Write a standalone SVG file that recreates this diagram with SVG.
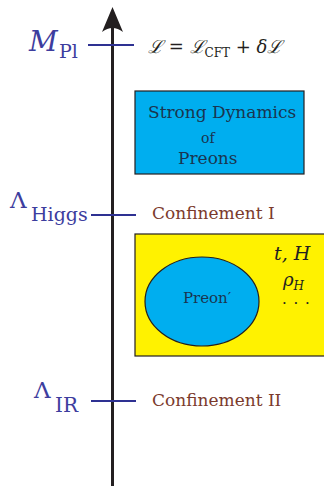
<svg xmlns="http://www.w3.org/2000/svg" width="324" height="486" viewBox="0 0 324 486">
  <style>
    .axis { stroke: #231f20; stroke-width: 3; fill: none; }
    .tick { stroke: #2e3192; stroke-width: 2.2; }
    .serif { font-family: "DejaVu Serif", serif; }
    .scale { fill: #3d3d9e; }
    .conf { font-size: 17px; fill: #7b3a2c; }
    .math { fill: #231f20; }
    .box-text { fill: #1a3550; }
    .blue { fill: #00aeef; stroke: #231f20; stroke-width: 1.2; }
    .yellow { fill: #fff200; stroke: #231f20; stroke-width: 1.2; }
  </style>

  <!-- energy axis -->
  <g id="connectors">
    <line class="axis" x1="112.5" y1="486" x2="112.5" y2="24"/>
    <path d="M112.5 7 L123 32 Q112.5 24 102 32 Z" fill="#231f20"/>
    <line class="tick" x1="88" y1="45" x2="134" y2="45"/>
    <line class="tick" x1="91" y1="215" x2="136" y2="215"/>
    <line class="tick" x1="91" y1="401" x2="136" y2="401"/>
  </g>

  <g id="planck" class="serif">
    <text class="scale" x="29" y="51" font-size="28" font-style="italic">M</text>
    <text class="scale" x="59" y="58" font-size="19">Pl</text>
    <text class="math" x="148" y="53" font-size="18"><tspan font-style="italic">ℒ</tspan> = <tspan font-style="italic">ℒ</tspan><tspan font-size="12" dy="4">CFT</tspan><tspan dy="-4"> + </tspan><tspan font-style="italic">δℒ</tspan></text>
  </g>

  <g id="strong-dynamics" class="serif">
    <rect class="blue" x="135" y="91" width="169" height="83"/>
    <text class="box-text" x="148" y="118" font-size="17">Strong Dynamics</text>
    <text class="box-text" x="201" y="143" font-size="14">of</text>
    <text class="box-text" x="178" y="164" font-size="17">Preons</text>
  </g>

  <g id="higgs" class="serif">
    <text class="scale" x="10" y="208" font-size="23">Λ</text>
    <text class="scale" x="31" y="221" font-size="19">Higgs</text>
    <text class="conf" x="152" y="219">Confinement I</text>
  </g>

  <g id="composite" class="serif">
    <rect class="yellow" x="135" y="234" width="194" height="122"/>
    <ellipse class="blue" cx="202" cy="301.5" rx="57" ry="44.5"/>
    <text class="box-text" x="207" y="303" font-size="15" text-anchor="middle">Preon′</text>
    <text class="math" x="274" y="260" font-size="19" font-style="italic">t, H</text>
    <text class="math" x="283" y="286" font-size="18" font-style="italic">ρ<tspan font-size="12" dy="4">H</tspan></text>
    <text class="math" x="282" y="308" font-size="15" letter-spacing="1">· · ·</text>
  </g>

  <g id="infrared" class="serif">
    <text class="scale" x="34" y="398" font-size="23">Λ</text>
    <text class="scale" x="55" y="412" font-size="20">IR</text>
    <text class="conf" x="152" y="406">Confinement II</text>
  </g>
</svg>
